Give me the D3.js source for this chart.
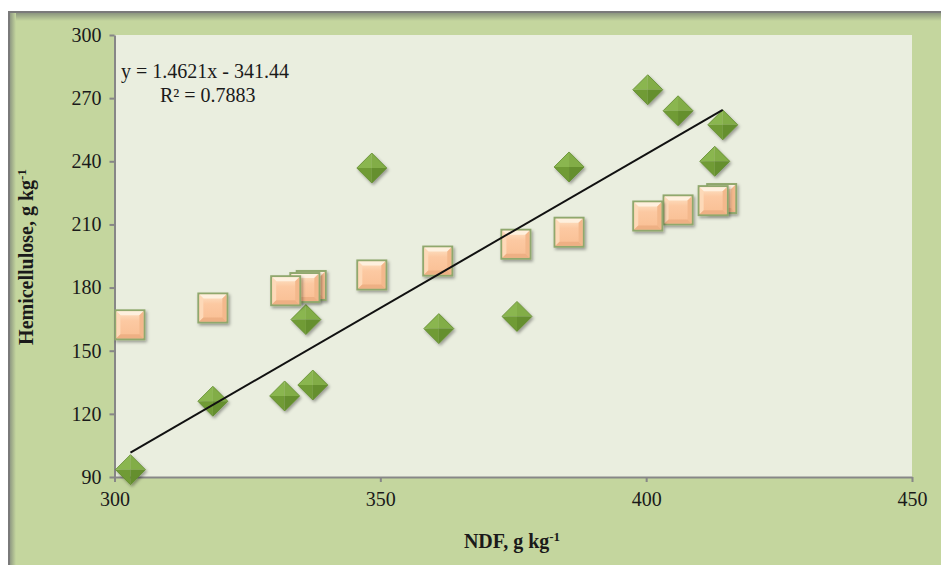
<!DOCTYPE html>
<html>
<head>
<meta charset="utf-8">
<script src="https://cdn.jsdelivr.net/npm/d3@7"></script>
<style>
  html, body { margin: 0; padding: 0; background: #ffffff; }
  svg { display: block; }
  text { font-family: "Liberation Serif", "Times New Roman", serif; fill: #1a1a1a; }
</style>
</head>
<body>
<svg id="chart" width="941" height="565"></svg>
<script>
// NDF (g/kg) of each sample
const ndfDiamond = [303, 318.5, 332, 336, 337.3, 348.4, 361, 375.7, 385.5, 400.3, 406, 412.9, 414.4];
// Hemicellulose (g/kg), measured series
const hemiDiamond = [93.5, 126, 128.5, 164.8, 133.7, 236.8, 160.5, 166.3, 237.3, 274, 264, 240, 257.3];
// NDF (g/kg) of the second series
const ndfSquare = [302.9, 318.5, 332.2, 335.8, 337, 348.4, 360.8, 375.5, 385.5, 400.3, 406, 412.6, 414.2];
// Hemicellulose (g/kg), second series
const hemiSquare = [162.3, 170.3, 178.5, 180, 181, 186, 192.6, 200.6, 206.3, 214, 216.9, 221.3, 222.3];

const xTicks = [300, 350, 400, 450];
const yTicks = [90, 120, 150, 180, 210, 240, 270, 300];

// Linear trend of the measured series
const slope = 1.4621, intercept = -341.44, r2 = 0.7883;

const svg = d3.select("#chart");
const W = 941, H = 565;

const x = d3.scaleLinear().domain([300, 450]).range([114.5, 912]);
const y = d3.scaleLinear().domain([90, 300]).range([477, 35]);

const defs = svg.append("defs");

// frame shading
const gTop = defs.append("linearGradient").attr("id", "frameTop").attr("x1", 0).attr("y1", 0).attr("x2", 0).attr("y2", 1);
gTop.append("stop").attr("offset", 0).attr("stop-color", "#7a7a7a");
gTop.append("stop").attr("offset", 0.25).attr("stop-color", "#8f9a80");
gTop.append("stop").attr("offset", 1).attr("stop-color", "#c4d69e");
const gLeft = defs.append("linearGradient").attr("id", "frameLeft").attr("x1", 0).attr("y1", 0).attr("x2", 1).attr("y2", 0);
gLeft.append("stop").attr("offset", 0).attr("stop-color", "#7a7a7a");
gLeft.append("stop").attr("offset", 0.3).attr("stop-color", "#939e84");
gLeft.append("stop").attr("offset", 1).attr("stop-color", "#c4d69e");

// marker shadow
const sh = defs.append("filter").attr("id", "shadow").attr("x", "-40%").attr("y", "-40%").attr("width", "180%").attr("height", "180%");
sh.append("feDropShadow").attr("dx", 1.5).attr("dy", 2).attr("stdDeviation", 1.6)
  .attr("flood-color", "#000").attr("flood-opacity", 0.35);

// square face gradient
const sq = defs.append("linearGradient").attr("id", "sqFace").attr("x1", 0).attr("y1", 0).attr("x2", 0).attr("y2", 1);
sq.append("stop").attr("offset", 0).attr("stop-color", "#fde3c6");
sq.append("stop").attr("offset", 0.35).attr("stop-color", "#fcc9a2");
sq.append("stop").attr("offset", 1).attr("stop-color", "#f9bf94");

// background
svg.append("rect").attr("x", 8).attr("y", 11).attr("width", W - 8).attr("height", H - 11).attr("fill", "#c4d69e");
svg.append("rect").attr("x", 8).attr("y", 11).attr("width", W - 8).attr("height", 10).attr("fill", "url(#frameTop)");
svg.append("rect").attr("x", 8).attr("y", 11).attr("width", 8).attr("height", H - 11).attr("fill", "url(#frameLeft)");
svg.append("rect").attr("x", 8).attr("y", 11).attr("width", W - 8).attr("height", 2).attr("fill", "#7a7a7a");
svg.append("rect").attr("x", 8).attr("y", 11).attr("width", 2).attr("height", H - 11).attr("fill", "#7a7a7a");

// plot area
svg.append("rect")
  .attr("x", x(300)).attr("y", y(300))
  .attr("width", x(450) - x(300)).attr("height", y(90) - y(300))
  .attr("fill", "#eaeedf");

// axes
const yAxis = svg.append("g").attr("transform", `translate(${x(300)},0)`)
  .call(d3.axisLeft(y).tickValues(yTicks).tickSize(5).tickPadding(8).tickSizeOuter(0));
const xAxis = svg.append("g").attr("transform", `translate(0,${y(90)})`)
  .call(d3.axisBottom(x).tickValues(xTicks).tickSize(5).tickPadding(10).tickSizeOuter(0));
[xAxis, yAxis].forEach(a => {
  a.select(".domain").attr("stroke", "#878787").attr("stroke-width", 2);
  a.selectAll(".tick line").attr("stroke", "#878787").attr("stroke-width", 2);
  a.selectAll(".tick text").style("font-family", "'Liberation Serif', serif")
    .style("font-size", "20px").attr("fill", "#1a1a1a");
});

// diamond markers with four bevel facets (lighter upper half)
const dr = 15;
const diamonds = svg.append("g").selectAll("g").data(d3.zip(ndfDiamond, hemiDiamond).reverse()).join("g")
  .attr("transform", d => `translate(${x(d[0])},${y(d[1])})`)
  .attr("filter", "url(#shadow)");
const facets = [
  { p: [[0, -dr], [-dr, 0], [0, 0]], c: "#8ab64f" },
  { p: [[0, -dr], [dr, 0], [0, 0]], c: "#82ad46" },
  { p: [[-dr, 0], [0, dr], [0, 0]], c: "#6f9b35" },
  { p: [[dr, 0], [0, dr], [0, 0]], c: "#658f2e" }
];
facets.forEach(f => {
  diamonds.append("path").attr("d", "M" + f.p.map(q => q.join(",")).join("L") + "Z").attr("fill", f.c);
});
diamonds.append("path")
  .attr("d", `M0,${-dr}L${dr},0L0,${dr}L${-dr},0Z`)
  .attr("fill", "none").attr("stroke", "#5f8a2c").attr("stroke-width", 0.8);

// square markers with raised bevel; drawn right to left so the left one sits in front
const s = 15.5;
const squares = svg.append("g").selectAll("g").data(d3.zip(ndfSquare, hemiSquare).reverse()).join("g")
  .attr("transform", d => `translate(${x(d[0])},${y(d[1])})`)
  .attr("filter", "url(#shadow)");
squares.append("rect").attr("x", -s).attr("y", -s).attr("width", 2 * s).attr("height", 2 * s)
  .attr("fill", "#90a86d");
squares.append("rect").attr("x", -s + 2).attr("y", -s + 2).attr("width", 2 * s - 4).attr("height", 2 * s - 4)
  .attr("fill", "url(#sqFace)");
const b = s - 2, i = s - 6;
squares.append("path").attr("d", `M${-b},${-b}L${b},${-b}L${i},${-i}L${-i},${-i}Z`).attr("fill", "#fef0de");
squares.append("path").attr("d", `M${-b},${-b}L${-i},${-i}L${-i},${i}L${-b},${b}Z`).attr("fill", "#fdd9b8");
squares.append("path").attr("d", `M${b},${-b}L${b},${b}L${i},${i}L${i},${-i}Z`).attr("fill", "#f3b88c");
squares.append("path").attr("d", `M${-b},${b}L${b},${b}L${i},${i}L${-i},${i}Z`).attr("fill", "#eeb084");

// trend line over the measured series' NDF range
const x0 = d3.min(ndfDiamond), x1 = d3.max(ndfDiamond);
svg.append("line")
  .attr("x1", x(x0)).attr("y1", y(slope * x0 + intercept))
  .attr("x2", x(x1)).attr("y2", y(slope * x1 + intercept))
  .attr("stroke", "#111").attr("stroke-width", 2);

// regression label
svg.append("text").attr("x", 121).attr("y", 78).style("font-size", "20px")
  .text(`y = ${slope}x - ${Math.abs(intercept)}`);
svg.append("text").attr("x", 160).attr("y", 102).style("font-size", "20px")
  .text(`R² = ${r2}`);

// axis titles
const xt = svg.append("text").attr("x", 512).attr("y", 548).attr("text-anchor", "middle")
  .style("font-size", "20px").style("font-weight", "bold");
xt.append("tspan").text("NDF, g kg");
xt.append("tspan").attr("dy", -7).style("font-size", "13px").text("-1");

const yt = svg.append("text").attr("transform", "translate(33,257) rotate(-90)").attr("text-anchor", "middle")
  .style("font-size", "20px").style("font-weight", "bold");
yt.append("tspan").text("Hemicellulose, g kg");
yt.append("tspan").attr("dy", -7).style("font-size", "13px").text("-1");
</script>
</body>
</html>
